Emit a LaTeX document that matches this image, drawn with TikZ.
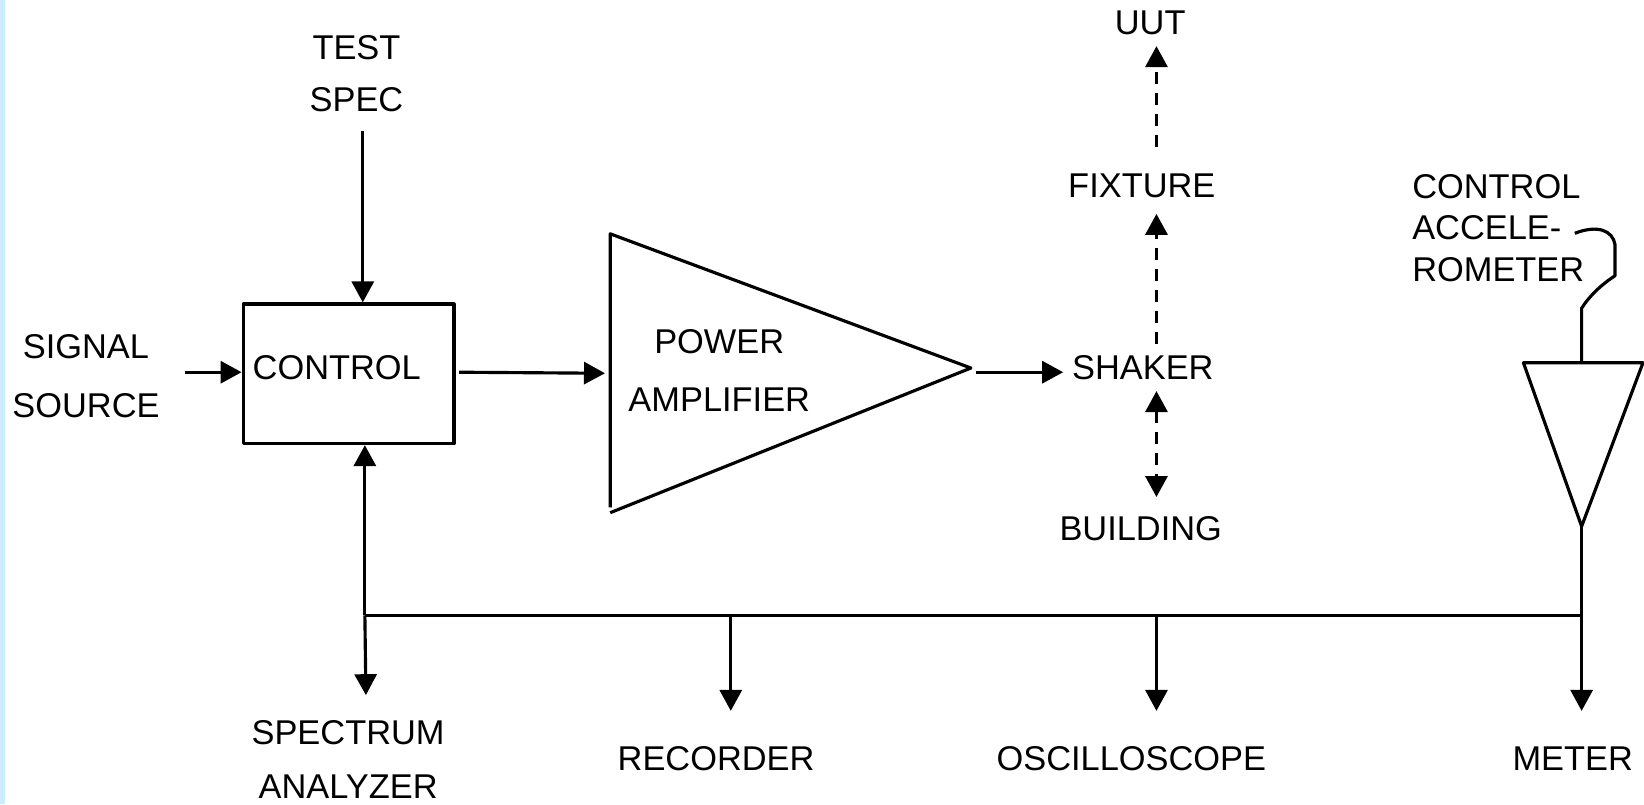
\documentclass[tikz,border=0pt]{standalone}
\usepackage{fontspec}
\setmainfont{Liberation Sans}
\usetikzlibrary{arrows.meta}
\definecolor{stripblue}{RGB}{204,236,255}
\begin{document}
\begin{tikzpicture}[x=0.5pt,y=-0.5pt,
  line width=1.5pt, line join=round,
  lbl/.style={inner sep=0pt, outer sep=0pt, align=center, font=\fontsize{16.4}{28}\selectfont},
  tip/.tip={Triangle[length=10pt,width=10.5pt]},
  arr/.style={-tip},
  darr/.style={-tip, dash pattern=on 5.5pt off 4.5pt},
  ddarr/.style={tip-tip, dash pattern=on 5.5pt off 4.5pt},
  boxstyle/.style={draw, line width=1.6pt, inner sep=0pt, minimum width=100.5pt, minimum height=66.5pt}
]
\useasboundingbox (0,0) rectangle (1568,767);
\fill[stripblue] (0,0) rectangle (5,767);

% labels
\node[lbl, font=\fontsize{16.4}{25}\selectfont] (testspec) at (340,70) {TEST\\SPEC};
\node[lbl] (signal) at (82,359) {SIGNAL\\SOURCE};
\node[boxstyle] (ctrl) at (332.5,356.5) {};
\node[lbl, anchor=west] (ctrllbl) at (241,351) {CONTROL};
\node[lbl, font=\fontsize{16.4}{27.5}\selectfont] (amplbl) at (686,353.5) {POWER\\AMPLIFIER};
\node[lbl] (shaker) at (1090,351) {SHAKER};
\node[lbl] (fixture) at (1089,177) {FIXTURE};
\node[lbl] (uut) at (1097,22) {UUT};
\node[lbl] (building) at (1088,504) {BUILDING};
\node[lbl, align=left, anchor=west, font=\fontsize{16.4}{19.75}\selectfont] (acclbl) at (1347,217.5) {CONTROL\\ACCELE-\\ROMETER};
\node[lbl, font=\fontsize{16.4}{25.5}\selectfont] (spec) at (332,724.5) {SPECTRUM\\ANALYZER};
\node[lbl] (rec) at (683,724) {RECORDER};
\node[lbl] (osc) at (1079,724) {OSCILLOSCOPE};
\node[lbl] (meter) at (1500,724) {METER};

% power amplifier
\coordinate (ampT) at (582,223);
\coordinate (ampB) at (582,489);
\coordinate (ampL) at (582,484);
\coordinate (ampTip) at (926,351);
\draw (ampB) -- (ampTip) -- (ampT) -- (ampL);

% accelerometer
\coordinate (accL) at (1453,346);
\coordinate (accR) at (1567,346);
\coordinate (accB) at (1508.5,502);
\coordinate (accTop) at (1508.5,346);
\coordinate (cab1) at (1508.5,294);
\coordinate (cab2) at (1540.3,263);
\coordinate (cab3) at (1540.3,233);
\coordinate (cabEnd) at (1502,222.5);
\draw (accL) -- (accR) -- (accB) -- cycle;
\draw (accTop) -- (cab1) .. controls (1516,282) and (1528,271) .. (cab2) -- (cab3)
      .. controls (1538,220) and (1524,214) .. (cabEnd);

% connectors
\coordinate (tsS) at (346,125);
\draw[arr] (tsS) -- (tsS |- ctrl.north);
\coordinate (sgS) at (176,355);
\draw[arr] (sgS) -- (sgS -| ctrl.west);
\coordinate (caS) at (438,355);
\coordinate (caE) at (577,356);
\draw[arr] (caS) -- (caE);
\coordinate (asS) at (931,355);
\coordinate (asE) at (1014,355);
\draw[arr] (asS) -- (asE);

\coordinate (sfS) at (1103,328);
\coordinate (sfE) at (1103,204);
\draw[darr] (sfS) -- (sfE);
\coordinate (fuS) at (1103,140);
\coordinate (fuE) at (1103,44);
\draw[darr] (fuS) -- (fuE);
\coordinate (sbS) at (1103,373);
\coordinate (sbE) at (1103,474);
\draw[ddarr] (sbS) -- (sbE);

% bus
\coordinate (bL) at (348,587);
\coordinate (bR) at (1508.5,587);
\draw (bL) -- (bR);
\draw[arr] (bL) -- (bL |- ctrl.south);
\coordinate (saE) at (349,663);
\draw[arr] (bL) -- (saE);
\coordinate (bRec) at (697,587);
\coordinate (recE) at (697,678);
\draw[arr] (bRec) -- (recE);
\coordinate (bOsc) at (1103,587);
\coordinate (oscE) at (1103,678);
\draw[arr] (bOsc) -- (oscE);
\coordinate (meterE) at (1508.5,678);
\draw[arr] (accB) -- (meterE);
\end{tikzpicture}
\end{document}
